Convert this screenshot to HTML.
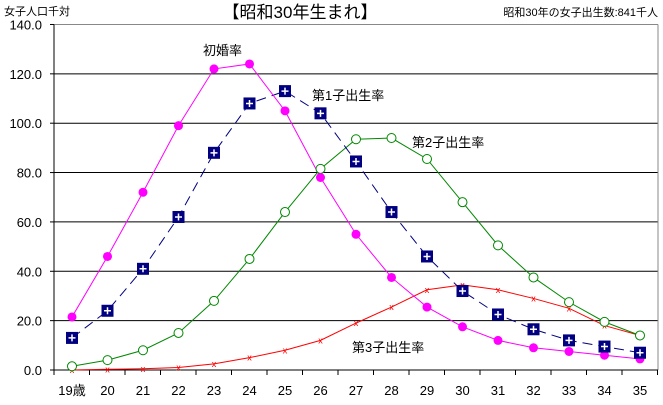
<!DOCTYPE html>
<html><head><meta charset="utf-8"><style>
body{margin:0;background:#fff;width:663px;height:400px;overflow:hidden}
text{font-family:"Liberation Sans","Noto Sans CJK JP",sans-serif;fill:#000}
</style></head><body>
<svg id="s" width="663" height="400" xmlns="http://www.w3.org/2000/svg"></svg>
<script>
const s=document.getElementById('s');
const NS='http://www.w3.org/2000/svg';
function el(t,a,txt){const e=document.createElementNS(NS,t);for(const k in a)e.setAttribute(k,a[k]);if(txt!==undefined)e.textContent=txt;s.appendChild(e);return e;}
const X=i=>72+i*35.5, Y=v=>370-v*2.468;
for(let v=20;v<=120;v+=20) el('line',{x1:54,x2:658,y1:Y(v),y2:Y(v),stroke:'#000','stroke-width':1});
el('line',{x1:54,x2:658,y1:Y(140),y2:Y(140),stroke:'#888'});
el('line',{x1:658,x2:658,y1:Y(140),y2:370,stroke:'#888'});
el('line',{x1:54,x2:54,y1:Y(140),y2:370,stroke:'#000'});
el('line',{x1:54,x2:658,y1:370,y2:370,stroke:'#000'});
for(let v=0;v<=140;v+=20){el('line',{x1:50,x2:54,y1:Y(v),y2:Y(v),stroke:'#000'});
el('text',{x:42,y:Y(v)+5,'font-size':13,'text-anchor':'end'},v.toFixed(1));}
for(let i=0;i<=17;i++) el('line',{x1:54+i*35.5,x2:54+i*35.5,y1:370,y2:375,stroke:'#000'});
for(let i=0;i<17;i++) el('text',{x:X(i),y:395,'font-size':13,'text-anchor':'middle'},i==0?'19歳':String(19+i));
el('text',{x:4,y:15,'font-size':11},'女子人口千対');
el('text',{x:300,y:18,'font-size':17,'text-anchor':'middle','font-weight':'normal'},'【昭和30年生まれ】');
el('text',{x:658,y:16,'font-size':11,'text-anchor':'end'},'昭和30年の女子出生数:841千人');
const d1=[21.5,46,72,99,122,124,105,78,55,37.5,25.5,17.5,12,9,7.5,6,4.5];
const d2=[13,24,41,62,88,108,113,104,84.5,64,46,32,22.5,16.5,12,9.5,7];
const d3=[1.5,4,8,15,28,45,64,81.5,93.5,94,85.5,68,50.5,37.5,27.5,19.5,14];
const d4=[0,0.3,0.5,1,2.5,5,8,12,19,25.5,32.5,34.5,32.5,29,25,18,14];
const pts=d=>d.map((v,i)=>X(i)+','+Y(v)).join(' ');
el('polyline',{points:pts(d4),fill:'none',stroke:'#f00'});
el('polyline',{points:pts(d3),fill:'none',stroke:'#080'});
el('polyline',{points:pts(d2),fill:'none',stroke:'#000080','stroke-dasharray':'10,6'});
el('polyline',{points:pts(d1),fill:'none',stroke:'#f0f'});
d4.forEach((v,i)=>el('text',{x:X(i),y:Y(v)+3,'font-size':9,'text-anchor':'middle',style:'fill:#f00'},'x'));
d3.forEach((v,i)=>el('circle',{cx:X(i),cy:Y(v),r:4.5,fill:'#fff',stroke:'#080'}));
d1.forEach((v,i)=>el('circle',{cx:X(i),cy:Y(v),r:4.5,fill:'#f0f'}));
d2.forEach((v,i)=>{el('rect',{x:X(i)-6,y:Y(v)-6,width:12,height:12,fill:'#000080'});
el('path',{d:`M${X(i)-3.5} ${Y(v)}h7M${X(i)} ${Y(v)-3.5}v7`,stroke:'#fff','stroke-width':1.5});});
el('text',{x:203,y:55,'font-size':13},'初婚率');
el('text',{x:312,y:100,'font-size':13},'第1子出生率');
el('text',{x:412,y:147,'font-size':13},'第2子出生率');
el('text',{x:352,y:352,'font-size':13},'第3子出生率');
</script>
</body></html>
